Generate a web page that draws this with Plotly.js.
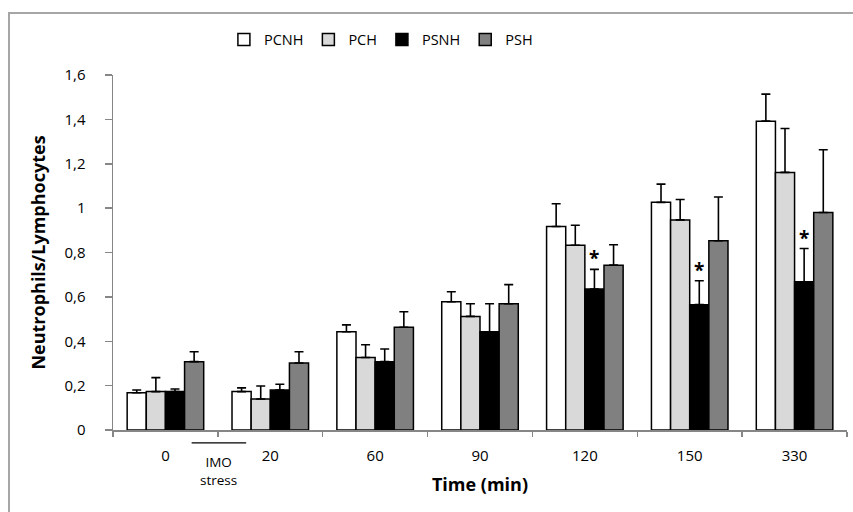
<!DOCTYPE html>
<html>
<head>
<meta charset="utf-8">
<script src="https://cdn.plot.ly/plotly-3.0.1.min.js"></script>
<style>
  html, body { margin: 0; padding: 0; background: #fff; }
  #wrap { position: relative; width: 853px; height: 512px; overflow: hidden; }
  #chart { width: 853px; height: 512px; }
  #frame { position: absolute; left: 8px; top: 12px; width: 900px; height: 600px;
           border: 2px solid #a6a6a6; pointer-events: none; }
</style>
</head>
<body>
<div id="wrap">
  <div id="chart"></div>
  <div id="frame"></div>
</div>
<script>
// Categories (time in minutes)
const categories = ["0", "20", "60", "90", "120", "150", "330"];

// Series values (Neutrophils/Lymphocytes ratio)
const PCNH = [0.168, 0.173, 0.443, 0.578, 0.917, 1.026, 1.392];
const PCH  = [0.173, 0.140, 0.327, 0.512, 0.833, 0.947, 1.161];
const PSNH = [0.173, 0.180, 0.308, 0.443, 0.635, 0.565, 0.668];
const PSH  = [0.308, 0.302, 0.463, 0.569, 0.743, 0.853, 0.980];

// Upper error bars (SEM)
const PCNH_err = [0.012, 0.017, 0.031, 0.045, 0.103, 0.082, 0.122];
const PCH_err  = [0.063, 0.058, 0.057, 0.057, 0.090, 0.092, 0.198];
const PSNH_err = [0.012, 0.026, 0.057, 0.126, 0.089, 0.108, 0.150];
const PSH_err  = [0.045, 0.051, 0.070, 0.086, 0.092, 0.197, 0.283];

// Significance markers on PSNH
const sigCategories = ["120", "150", "330"];

const seriesNames = ["PCNH", "PCH", "PSNH", "PSH"];
const seriesValues = [PCNH, PCH, PSNH, PSH];
const seriesErrors = [PCNH_err, PCH_err, PSNH_err, PSH_err];
const seriesColors = ["#ffffff", "#d9d9d9", "#000000", "#808080"];

const FONT = "'Open Sans', 'Noto Sans', 'Liberation Sans', sans-serif";
const bargap = 0.27;

const traces = seriesNames.map((name, k) => ({
  type: "bar",
  name: name,
  x: categories,
  y: seriesValues[k],
  marker: { color: seriesColors[k], line: { color: "#000000", width: 1.5 } },
  error_y: {
    type: "data",
    symmetric: false,
    array: seriesErrors[k],
    arrayminus: seriesErrors[k].map(() => 0),
    color: "#000000",
    thickness: 1.6,
    width: 4.5
  },
  hoverinfo: "x+y+name"
}));

// Asterisks above PSNH error bars (3rd of 4 bars in each group)
const psnhOffset = (1 - bargap) / 8;
const annotations = sigCategories.map(c => {
  const i = categories.indexOf(c);
  return {
    x: i + psnhOffset,
    y: PSNH[i] + PSNH_err[i],
    xref: "x", yref: "y",
    text: "<b>*</b>",
    showarrow: false,
    yanchor: "bottom",
    yshift: -4,
    font: { family: FONT, size: 19, color: "#000000" }
  };
});

annotations.push({
  x: 0.51, y: -0.115, xref: "x", yref: "paper",
  text: "IMO<br>stress",
  showarrow: false,
  xanchor: "center", yanchor: "middle",
  font: { family: FONT, size: 13.5, color: "#000000" }
});

const layout = {
  width: 853,
  height: 512,
  margin: { l: 113, r: 6, t: 75, b: 82 },
  paper_bgcolor: "#ffffff",
  plot_bgcolor: "#ffffff",
  separators: ", ",
  font: { family: FONT, size: 15, color: "#000000" },
  barmode: "group",
  bargap: bargap,
  bargroupgap: 0,
  showlegend: true,
  legend: {
    orientation: "h",
    x: 0.365, xanchor: "center",
    y: 1.1, yanchor: "middle",
    font: { family: FONT, size: 14.5, color: "#000000" },
    itemwidth: 30,
    traceorder: "normal"
  },
  xaxis: {
    type: "category",
    showline: true,
    linecolor: "#868686",
    linewidth: 1.5,
    ticks: "outside",
    tickson: "boundaries",
    ticklen: 5,
    tickcolor: "#868686",
    tickwidth: 1.5,
    showgrid: false,
    zeroline: false,
    tickfont: { family: FONT, size: 15, color: "#000000" },
    ticklabelstandoff: 11,
    title: {
      text: "<b>Time (min)</b>",
      font: { family: FONT, size: 18, color: "#000000" },
      standoff: 15
    }
  },
  yaxis: {
    range: [0, 1.6],
    dtick: 0.2,
    tick0: 0,
    showline: true,
    linecolor: "#868686",
    linewidth: 1.5,
    ticks: "outside",
    ticklen: 7,
    tickcolor: "#868686",
    tickwidth: 1.5,
    showgrid: false,
    zeroline: false,
    tickfont: { family: FONT, size: 15, color: "#000000" },
    ticklabelstandoff: 16,
    title: {
      text: "<b>Neutrophils/Lymphocytes</b>",
      font: { family: FONT, size: 18, color: "#000000" },
      standoff: 14
    }
  },
  shapes: [
    {
      type: "line", xref: "x", yref: "paper",
      x0: 0.25, x1: 0.77, y0: -0.036, y1: -0.036,
      line: { color: "#000000", width: 1.3 }
    }
  ],
  annotations: annotations
};

Plotly.newPlot("chart", traces, layout, { displayModeBar: false, staticPlot: true });
</script>
</body>
</html>
